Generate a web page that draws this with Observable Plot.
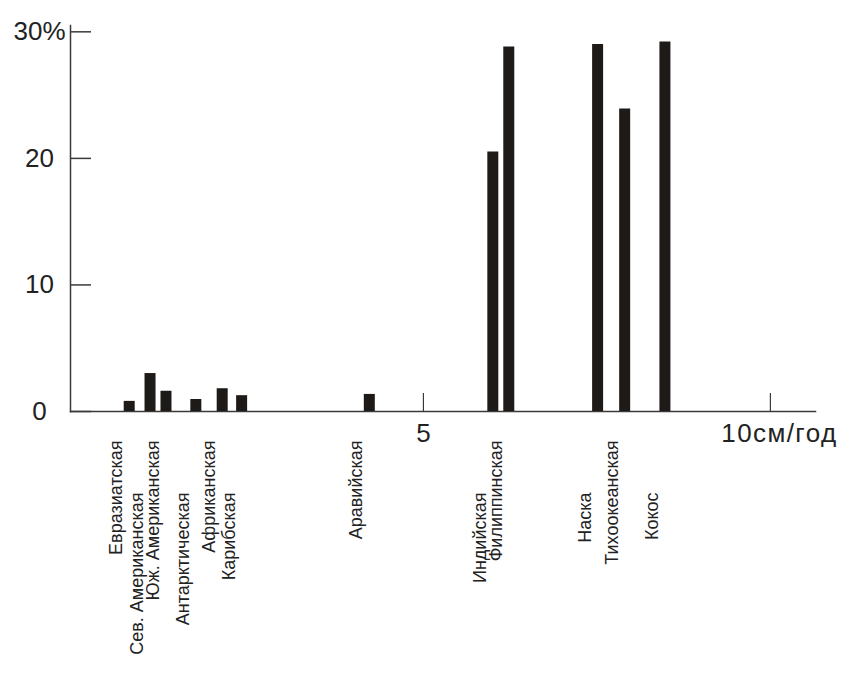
<!DOCTYPE html>
<html><head><meta charset="utf-8">
<script src="https://cdn.jsdelivr.net/npm/d3@7"></script>
<script src="https://cdn.jsdelivr.net/npm/@observablehq/plot@0.6"></script>
<style>body{margin:0;background:#fff} #chart svg{display:block}
.xlab10 text{letter-spacing:1.4px}</style>
</head><body><div id="chart"></div>
<script>
const plates = ["Евразиатская","Сев. Американская","Юж. Американская","Антарктическая","Африканская","Карибская","Аравийская","Индийская","Филиппинская","Наска","Тихоокеанская","Кокос"];
const velocity = [0.76, 1.06, 1.29, 1.72, 2.10, 2.38, 4.22, 6.00, 6.23, 7.51, 7.90, 8.48];
const share = [0.8, 3.0, 1.6, 0.95, 1.8, 1.25, 1.35, 20.5, 28.8, 29.0, 23.9, 29.2];
const yTicks = [0, 10, 20, 30];
const yTickLabels = ["0", "10", "20", "30%"];
const xTicks = [5, 10];
const xTickLabels = ["5", "10см/год"];

const data = plates.map((name, i) => ({name, v: velocity[i], s: share[i], row: i % 2}));
const axisColor = "#3a3a3a";
const ink = "#1e1a17";

const chart = Plot.plot({
  width: 860, height: 677,
  marginLeft: 70, marginRight: 45, marginTop: 25, marginBottom: 266,
  style: {fontFamily: "'Liberation Sans', Arial, sans-serif", background: "#fff", color: "#222"},
  x: {domain: [-0.086, 10.65]},
  y: {domain: [0, 30.5]},
  marks: [
    Plot.frame({anchor: "left", stroke: axisColor, strokeWidth: 1.5}),
    Plot.frame({anchor: "bottom", stroke: axisColor, strokeWidth: 1.5}),
    Plot.axisY(yTicks, {tickSize: -21, fill: "none", stroke: axisColor, strokeWidth: 1.5, label: null}),
    Plot.axisY(yTicks, {tickSize: 0, tickPadding: 31, textAnchor: "middle", fontSize: 26, fill: "#222",
      tickFormat: d => yTickLabels[yTicks.indexOf(d)], label: null}),
    Plot.axisX(xTicks, {tickSize: -18, fill: "none", stroke: axisColor, strokeWidth: 1.2, label: null}),
    Plot.axisX(xTicks.slice(0, 1), {tickSize: 0, tickPadding: 12, fontSize: 26, fill: "#222",
      tickFormat: d => xTickLabels[xTicks.indexOf(d)], label: null}),
    Plot.axisX(xTicks.slice(1), {tickSize: 0, tickPadding: 12, fontSize: 26, fill: "#222", dx: 9,
      className: "xlab10", tickFormat: d => xTickLabels[xTicks.indexOf(d)], label: null}),
    Plot.ruleX(data, {x: "v", y1: 0, y2: "s", stroke: ink, strokeWidth: 11}),
    Plot.text(data.filter(d => d.row === 0), {x: "v", text: "name", frameAnchor: "bottom", rotate: -90,
      textAnchor: "end", dx: -7, dy: 29, fontSize: 18, fill: "#222"}),
    Plot.text(data.filter(d => d.row === 1), {x: "v", text: "name", frameAnchor: "bottom", rotate: -90,
      textAnchor: "end", dx: -7, dy: 81, fontSize: 18, fill: "#222"})
  ]
});
document.getElementById("chart").appendChild(chart);
</script>
</body></html>
